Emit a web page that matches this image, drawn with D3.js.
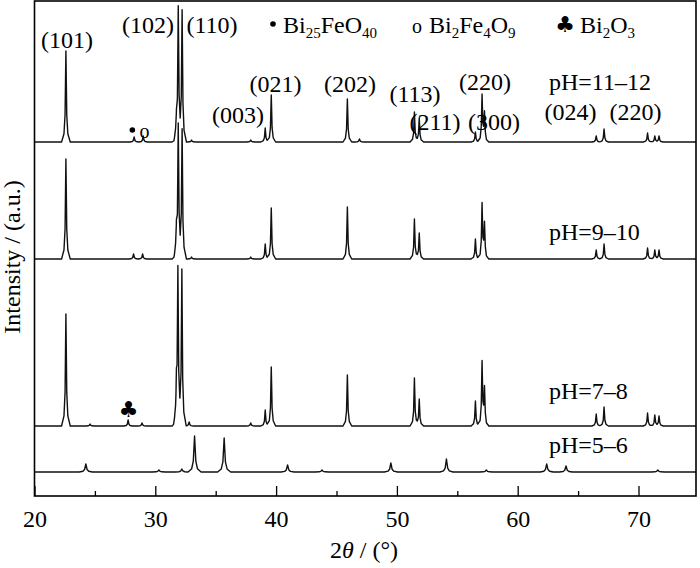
<!DOCTYPE html>
<html><head><meta charset="utf-8">
<script src="https://cdn.jsdelivr.net/npm/d3@7"></script>
<style>body{margin:0;background:#fff}svg{display:block}</style>
</head><body>
<svg id="c" width="700" height="568"></svg>
<script>
// ---- data (2θ in degrees, intensity in a.u.) ----
const samples = ["pH=11–12", "pH=9–10", "pH=7–8", "pH=5–6"];
const offsets = [354, 237, 70, 24];
const peaks_11_12 = [[22.6,91],[28.25,5],[29.0,6],[31.75,18],[31.9,132],[32.22,130],[33.0,2],[37.9,2],[39.1,14],[39.6,47],[45.9,43],[46.9,3],[51.45,30],[51.85,24],[56.5,10],[57.05,46],[57.25,28],[66.5,6],[67.15,13],[70.75,9],[71.35,6],[71.7,6]];
const peaks_9_10 = [[22.6,100],[28.2,5],[28.95,5],[31.75,25],[31.9,131],[32.22,128],[33.0,2],[37.9,2],[39.1,15],[39.6,51],[45.9,52],[51.45,40],[51.85,26],[56.5,20],[57.05,54],[57.25,34],[66.5,9],[67.15,15],[70.75,11],[71.35,9],[71.7,9]];
const peaks_7_8 = [[22.6,112],[24.6,2],[27.75,6],[28.9,3],[31.75,30],[31.87,153],[32.2,155],[32.8,4],[37.9,3],[39.1,16],[39.6,59],[45.9,51],[51.45,48],[51.85,27],[56.5,25],[57.05,63],[57.25,36],[66.5,12],[67.15,19],[70.75,13],[71.35,11],[71.7,10]];
const peaks_5_6 = [[24.25,8],[30.3,2],[32.2,3],[33.25,36],[35.7,34],[40.95,7],[43.8,2],[49.5,9],[54.1,13],[57.4,2],[62.4,8],[64.0,6],[71.6,2]];
const peakSets = [peaks_11_12, peaks_9_10, peaks_7_8, peaks_5_6];
const xTicks = [20, 30, 40, 50, 60, 70];
const xMinorTicks = [25, 35, 45, 55, 65];
// hkl annotations: [label, 2θ, intensity]
const hklLabels = [["(101)",22.69,448],["(102)",29.40,463],["(110)",34.69,463],["(003)",36.85,373],["(021)",39.95,404],["(202)",46.12,404],["(113)",51.5,394],["(211)",53.15,366],["(300)",58.04,366],["(220)",57.29,406],["(024)",64.37,376],["(220)",69.75,376]];
const sampleLabelX = 62.59;
const sampleLabelY = [406, 256, 97, 43];

// ---- layout ----
const svg = d3.select("#c");
const L = 34.5, R = 696, T = 1, B = 496;
const x = d3.scaleLinear().domain([20, 74.76]).range([L, R]);
const y = d3.scaleLinear().domain([0, 495]).range([B, T]);
const serif = "'Liberation Serif','Times New Roman',serif";

// peak profile (relative offsets in degrees, fraction of height)
const shape = [[-0.36,0],[-0.16,0.09],[-0.07,0.3],[-0.025,0.75],[0,1],[0.025,0.75],[0.07,0.3],[0.16,0.09],[0.36,0]];
const widthFactor = [1, 1, 1, 1.5];
function shapeAt(d, wf) {
  for (let i = 0; i < shape.length - 1; i++) {
    const a = shape[i][0]*wf, b = shape[i+1][0]*wf;
    if (d >= a && d <= b) {
      const t = (d - a) / (b - a);
      return shape[i][1] + t*(shape[i+1][1] - shape[i][1]);
    }
  }
  return 0;
}
function profile(peaks, base, wf) {
  const xs = [20, 74.76];
  peaks.forEach(p => shape.forEach(s => xs.push(p[0] + s[0]*wf)));
  xs.sort((a,b)=>a-b);
  return xs.map(v => [v, base + d3.sum(peaks, p => p[1]*shapeAt(v - p[0], wf))]);
}
const line = d3.line().x(d => x(d[0])).y(d => y(d[1]));

const plot = svg.append("g");
peakSets.forEach((pk, i) => {
  plot.append("path").attr("d", line(profile(pk, offsets[i], widthFactor[i])))
    .attr("fill","none").attr("stroke","#111").attr("stroke-width",1.4).attr("stroke-linejoin","round");
});

// frame
svg.append("rect").attr("x",L).attr("y",T).attr("width",R-L).attr("height",B-T)
  .attr("fill","none").attr("stroke","#000").attr("stroke-width",1.6);

// axes
const ax = svg.append("g").attr("transform",`translate(0,${B})`)
  .call(d3.axisBottom(x).tickValues(xTicks).tickSizeInner(-10).tickSizeOuter(0).tickPadding(14));
ax.select(".domain").remove();
ax.selectAll("line").attr("stroke","#000").attr("stroke-width",1.3);
ax.selectAll("text").attr("font-family",serif).attr("font-size",24).attr("fill","#000");
const axm = svg.append("g").attr("transform",`translate(0,${B})`)
  .call(d3.axisBottom(x).tickValues(xMinorTicks).tickSizeInner(-5).tickSizeOuter(0).tickFormat(""));
axm.select(".domain").remove();
axm.selectAll("line").attr("stroke","#000").attr("stroke-width",1.3);

// axis titles
const xt = svg.append("text").attr("x",364).attr("y",558).attr("text-anchor","middle")
  .attr("font-family",serif).attr("font-size",24);
xt.append("tspan").text("2");
xt.append("tspan").attr("font-style","italic").text("θ");
xt.append("tspan").text(" / (°)");
svg.append("text").attr("transform","translate(20,257) rotate(-90)").attr("text-anchor","middle")
  .attr("font-family",serif).attr("font-size",24).text("Intensity / (a.u.)");

// hkl labels
svg.append("g").selectAll("text").data(hklLabels).join("text")
  .attr("x", d => x(d[1])).attr("y", d => y(d[2])).attr("text-anchor","middle")
  .attr("font-family",serif).attr("font-size",24).text(d => d[0]);

// sample labels
svg.append("g").selectAll("text").data(samples).join("text")
  .attr("x", x(sampleLabelX)).attr("y", (d,i) => y(sampleLabelY[i]))
  .attr("font-family",serif).attr("font-size",24).text(d => d);

// phase markers on traces
svg.append("circle").attr("cx",x(28.1)).attr("cy",y(366)).attr("r",2.8).attr("fill","#000");
svg.append("text").attr("x",x(29.1)).attr("y",y(358)).attr("text-anchor","middle")
  .attr("font-family",serif).attr("font-size",20).text("o");
svg.append("text").attr("x",x(27.8)).attr("y",y(79)).attr("text-anchor","middle")
  .attr("font-family","'DejaVu Sans',sans-serif").attr("font-size",22).text("♣");

// legend
function chem(g, xp, yp, parts) {
  const t = g.append("text").attr("x",xp).attr("y",yp).attr("font-family",serif).attr("font-size",24);
  let sub = false;
  parts.forEach(p => {
    const isSub = !!p[1];
    const dy = isSub && !sub ? 5 : (!isSub && sub ? -5 : 0);
    const ts = t.append("tspan").attr("dy", dy).text(p[0]);
    if (isSub) ts.attr("font-size", 15);
    sub = isSub;
  });
  return t;
}
const lg = svg.append("g");
lg.append("circle").attr("cx",273).attr("cy",24).attr("r",2.8).attr("fill","#000");
chem(lg, 283, 33, [["Bi"],["25",1],["FeO"],["40",1]]);
lg.append("text").attr("x",417).attr("y",33).attr("text-anchor","middle").attr("font-family",serif).attr("font-size",20).text("o");
chem(lg, 429, 33, [["Bi"],["2",1],["Fe"],["4",1],["O"],["9",1]]);
lg.append("text").attr("x",565).attr("y",32).attr("text-anchor","middle").attr("font-family","'DejaVu Sans',sans-serif").attr("font-size",22).text("♣");
chem(lg, 580, 33, [["Bi"],["2",1],["O"],["3",1]]);
</script>
</body></html>
